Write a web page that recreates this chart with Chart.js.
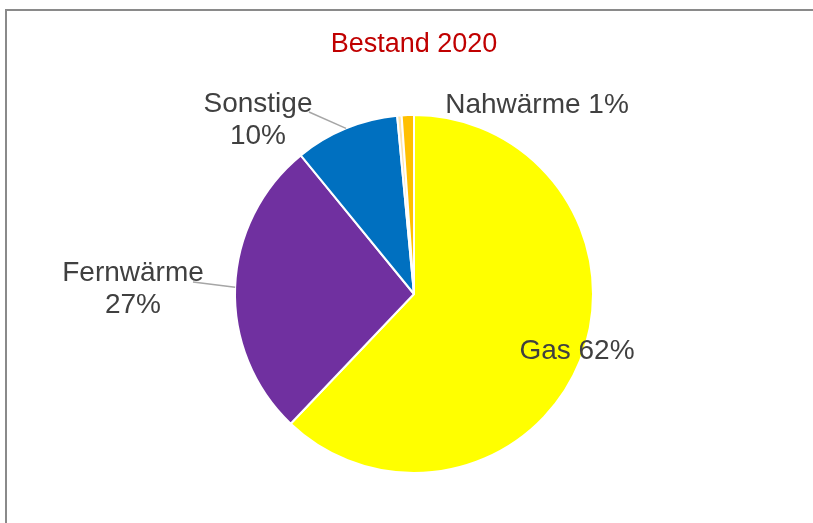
<!DOCTYPE html>
<html>
<head>
<meta charset="utf-8">
<script src="https://cdn.jsdelivr.net/npm/chart.js@4/dist/chart.umd.min.js"></script>
<style>
html,body{margin:0;padding:0;background:#fff;}
#wrap{position:relative;width:813px;height:523px;}
canvas{display:block;}
</style>
</head>
<body>
<div id="wrap"><canvas id="c" width="813" height="523"></canvas></div>
<script>
const chartTitle = "Bestand 2020";
const categories = ["Gas", "Fernwärme", "Sonstige", "Öl", "Nahwärme"];
const shares = [62.1, 27.0, 9.4, 0.4, 1.1];
const labelLines = [["Gas 62%"], ["Fernwärme", "27%"], ["Sonstige", "10%"], [], ["Nahwärme 1%"]];
const colors = ["#FFFF00", "#7030A0", "#0070C0", "#FCE4B0", "#FFC000"];

// label anchor layout (centre of text block) and leader line endpoints on label side
const labelLayout = [
  {x: 577, y: 351, leader: null},
  {x: 133, y: 289, leader: [193, 282]},
  {x: 258, y: 120, leader: [309, 112]},
  null,
  {x: 537, y: 105, leader: null}
];

const labelPlugin = {
  id: 'labels',
  beforeDraw(chart) {
    const ctx = chart.ctx;
    ctx.save();
    ctx.fillStyle = '#fff';
    ctx.fillRect(0, 0, chart.width, chart.height);
    ctx.strokeStyle = '#8a8a8a';
    ctx.lineWidth = 2;
    ctx.beginPath();
    ctx.moveTo(6, chart.height + 2);
    ctx.lineTo(6, 10);
    ctx.lineTo(chart.width + 2, 10);
    ctx.stroke();
    ctx.restore();
  },
  afterDatasetsDraw(chart) {
    const ctx = chart.ctx;
    const meta = chart.getDatasetMeta(0);
    ctx.save();
    // title
    ctx.font = '27px "Liberation Sans", Arial, sans-serif';
    ctx.fillStyle = '#C00000';
    ctx.textAlign = 'center';
    ctx.textBaseline = 'middle';
    ctx.fillText(chartTitle, 414, 45);
    // labels
    ctx.font = '28px "Liberation Sans", Arial, sans-serif';
    ctx.fillStyle = '#404040';
    const lh = 32;
    meta.data.forEach((arc, i) => {
      const lay = labelLayout[i];
      if (!lay) return;
      const lines = labelLines[i];
      if (lay.leader) {
        const mid = (arc.startAngle + arc.endAngle) / 2;
        const px = arc.x + Math.cos(mid) * arc.outerRadius;
        const py = arc.y + Math.sin(mid) * arc.outerRadius;
        ctx.strokeStyle = '#a6a6a6';
        ctx.lineWidth = 1.5;
        ctx.beginPath();
        ctx.moveTo(lay.leader[0], lay.leader[1]);
        ctx.lineTo(px, py);
        ctx.stroke();
      }
      const y0 = lay.y - (lines.length - 1) * lh / 2;
      lines.forEach((t, k) => ctx.fillText(t, lay.x, y0 + k * lh));
    });
    ctx.restore();
  }
};

new Chart(document.getElementById('c'), {
  type: 'pie',
  data: {
    labels: categories,
    datasets: [{
      data: shares,
      backgroundColor: colors,
      borderColor: '#ffffff',
      borderWidth: 2
    }]
  },
  options: {
    responsive: false,
    animation: false,
    rotation: 0,
    layout: {padding: {top: 114, bottom: 49, left: 234, right: 219}},
    plugins: {legend: {display: false}, tooltip: {enabled: false}, title: {display: false}}
  },
  plugins: [labelPlugin]
});
</script>
</body>
</html>
